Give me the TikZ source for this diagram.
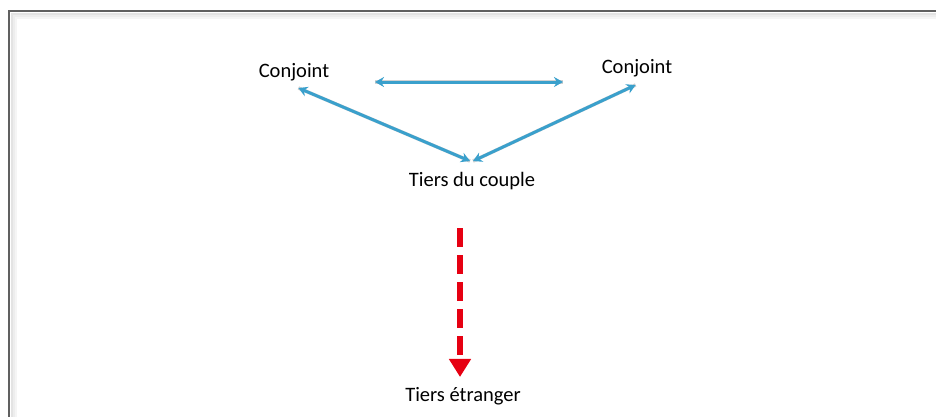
\documentclass[tikz,border=0pt]{standalone}
\usepackage{fontspec}
\setmainfont{Carlito}
\usetikzlibrary{arrows.meta}

\definecolor{linkblue}{RGB}{58,160,204}
\definecolor{linkred}{RGB}{230,0,18}
\definecolor{framegray}{RGB}{96,96,96}

\tikzset{
  label/.style={font=\fontsize{20.5}{24}\selectfont, inner sep=2pt},
  linkshadow/.style={draw=black!18, line width=3.5pt},
  link/.style={draw=linkblue, line width=3pt, {Stealth[length=9pt,width=10pt]}-{Stealth[length=9pt,width=10pt]}},
  outside/.style={draw=linkred, line width=6.5pt, dash pattern=on 19pt off 8pt,
    -{Triangle[length=18pt,width=21pt]}, shorten >=8pt}
}

\begin{document}
\begin{tikzpicture}[x=1pt, y=-1pt]
    \useasboundingbox (0,0) rectangle (936,416);

    % frame with its inner glow
    \foreach \d/\c in {7/8, 5/14, 3/22} {
        \draw[gray!\c, line width=2pt] (9+\d,420) -- (9+\d,11+\d) -- (940,11+\d);
    }
    \draw[framegray, line width=2.5pt] (9,420) -- (9,11) -- (940,11);

    \node (c1) [label] at (294,72) {Conjoint};
    \node (c2) [label] at (637,68) {Conjoint};
    \node (t) [label] at (472,181) {Tiers du couple};
    \node (e) [label] at (463,396) {Tiers étranger};

    \coordinate (h1) at (375,82);
    \coordinate (h2) at (563,82);
    \coordinate (d1) at (460,228);
    \path (c1.south east) ++(-33,5) coordinate (c1b);
    \path (c2.south west) ++(36,6) coordinate (c2b);
    \path (t.north) ++(-2,-9) coordinate (tl);
    \path (t.north) ++(1,-9) coordinate (tr);

    % soft shadows under the blue links
    \begin{scope}[shift={(2,3)}]
        \draw[linkshadow] (h1) -- (h2);
        \draw[linkshadow] (c1b) -- (tl);
        \draw[linkshadow] (c2b) -- (tr);
    \end{scope}

    \draw[link] (h1) -- (h2);
    \draw[link] (c1b) -- (tl);
    \draw[link] (c2b) -- (tr);

    \draw[outside] (d1) -- (d1 |- e.north);

\end{tikzpicture}
\end{document}
